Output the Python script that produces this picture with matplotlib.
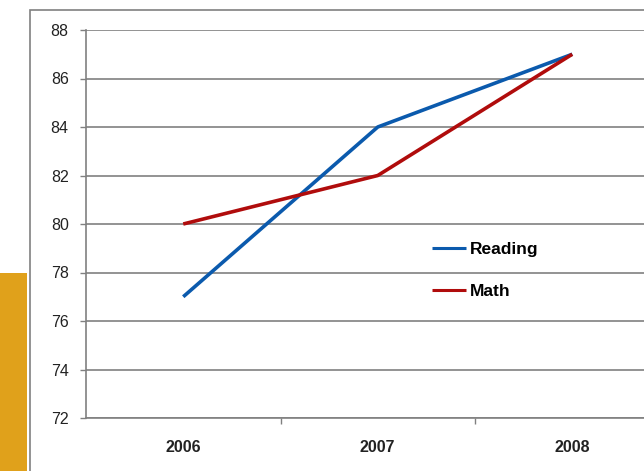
import matplotlib
matplotlib.use("Agg")
import matplotlib.pyplot as plt
from matplotlib.patches import Rectangle

# Chart data
years = ["2006", "2007", "2008"]
reading = [77, 84, 87]
math_scores = [80, 82, 87]
y_ticks = [72, 74, 76, 78, 80, 82, 84, 86, 88]

plt.rcParams['font.family'] = ['Liberation Sans', 'DejaVu Sans']

W, H = 644, 471
fig = plt.figure(figsize=(W / 100, H / 100), dpi=100)
fig.patch.set_facecolor("white")

# golden strip on the left edge
fig.add_artist(Rectangle((0, 0), 27 / W, (H - 273) / H, transform=fig.transFigure,
                         facecolor="#E0A11B", edgecolor="none", zorder=0))
# outer chart frame (cut off at the right and bottom)
fig.add_artist(Rectangle((30 / W, -0.1), 2.0, 1 - 10 / H + 0.1, transform=fig.transFigure,
                         facecolor="none", edgecolor="#808080", lw=1.2, zorder=1))

left, right, top, bottom = 86, 669.5, 30, 418
ax = fig.add_axes([left / W, 1 - bottom / H, (right - left) / W, (bottom - top) / H])
ax.set_facecolor("none")

x = list(range(len(years)))
ax.plot(x, reading, color="#0B5AAD", lw=2.6, label="Reading", zorder=3, solid_capstyle="butt")
ax.plot(x, math_scores, color="#B00C0C", lw=2.6, label="Math", zorder=3, solid_capstyle="butt")

ax.set_xlim(-0.5, 2.5)
ax.set_ylim(72, 88)
ax.set_yticks(y_ticks)
ax.set_yticklabels([str(t) for t in y_ticks], fontsize=11.5)
ax.set_xticks(x)
ax.set_xticklabels(years, fontsize=11.5, fontweight="bold", color="#222222")
ax.set_xticks([0.5, 1.5], minor=True)
ax.tick_params(axis="x", which="major", length=0, pad=16)
ax.tick_params(axis="x", which="minor", length=4.5, width=1.0, color="#808080")
ax.tick_params(axis="y", length=4.5, width=1.0, color="#808080", pad=8, labelcolor="#222222")

ax.yaxis.grid(True, color="#808080", lw=1.2)
ax.set_axisbelow(True)
for s in ["top", "right"]:
    ax.spines[s].set_visible(False)
for s in ["left", "bottom"]:
    ax.spines[s].set_color("#808080")
    ax.spines[s].set_linewidth(1.2)

leg = ax.legend(loc="upper left", bbox_to_anchor=((423 - left) / (right - left), (bottom - 233) / (bottom - top)),
                frameon=False, handlelength=2.0, handletextpad=0.2, labelspacing=1.55,
                prop={"size": 12.5, "weight": "bold"}, borderpad=0)
for line in leg.get_lines():
    line.set_linewidth(2.2)

fig.savefig("out.png", dpi=100)
